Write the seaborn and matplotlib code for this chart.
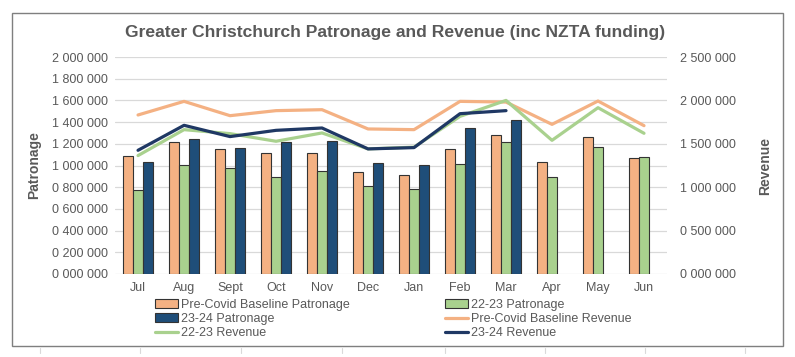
import numpy as np
import pandas as pd
import seaborn as sns
import matplotlib.pyplot as plt
from matplotlib.patches import Rectangle
from matplotlib.lines import Line2D

sns.set_theme(style="white")
plt.rcParams['font.family'] = ['Liberation Sans', 'DejaVu Sans']

# Datos
months = ["Jul", "Aug", "Sept", "Oct", "Nov", "Dec", "Jan", "Feb", "Mar", "Apr", "May", "Jun"]
pat_pre = [1092000, 1215000, 1156000, 1120000, 1120000, 942000, 917000, 1156000, 1282000, 1031000, 1267000, 1074000]
pat_2223 = [779000, 1009000, 982000, 890000, 948000, 813000, 788000, 1018000, 1215000, 899000, 1175000, 1083000]
pat_2324 = [1034000, 1248000, 1166000, 1218000, 1230000, 1028000, 1009000, 1347000, 1417000, np.nan, np.nan, np.nan]
rev_pre = [1833000, 1990000, 1825000, 1883000, 1894000, 1672000, 1664000, 1990000, 1982000, 1725000, 1994000, 1710000]
rev_2223 = [1365000, 1664000, 1618000, 1530000, 1626000, 1442000, 1462000, 1817000, 2001000, 1541000, 1917000, 1622000]
rev_2324 = [1426000, 1714000, 1584000, 1656000, 1683000, 1442000, 1457000, 1848000, 1883000, np.nan, np.nan, np.nan]

bar_names = ["Pre-Covid Baseline Patronage", "22-23 Patronage", "23-24 Patronage"]
line_names = ["Pre-Covid Baseline Revenue", "22-23 Revenue", "23-24 Revenue"]

c_orange = "#F4B183"
c_green = "#A9D18E"
c_blue = "#1F4E79"
c_navy = "#1F3864"
txt = "#595959"

bars = pd.DataFrame({
    "month": months * 3,
    "serie": [bar_names[0]] * 12 + [bar_names[1]] * 12 + [bar_names[2]] * 12,
    "valor": pat_pre + pat_2223 + pat_2324,
})
lines = pd.DataFrame({
    "pos": list(range(12)) * 3,
    "serie": [line_names[0]] * 12 + [line_names[1]] * 12 + [line_names[2]] * 12,
    "valor": rev_pre + rev_2223 + rev_2324,
})

fig = plt.figure(figsize=(7.95, 3.57), dpi=100)
ax = fig.add_axes([0.1447, 0.2325, 0.6943, 0.6075])

sns.barplot(data=bars, x="month", y="valor", hue="serie", hue_order=bar_names,
            palette=[c_orange, c_green, c_blue], saturation=1, width=0.67, gap=0,
            edgecolor="#333333", linewidth=0.8, errorbar=None, legend=False, ax=ax)

ax.set_ylim(0, 2000000)
ax.set_yticks(np.arange(0, 2000001, 200000))


def fmt(v):
    s = f"{int(v):07d}"
    return s[0] + " " + s[1:4] + " " + s[4:]


ax.set_yticklabels([fmt(v) for v in ax.get_yticks()], fontsize=9, color=txt)
ax.tick_params(axis="x", labelsize=9, labelcolor=txt, length=0, pad=6)
ax.tick_params(axis="y", length=0, pad=5)
ax.grid(axis="y", color="#D9D9D9", linewidth=0.9)
ax.set_axisbelow(True)
for s in ax.spines.values():
    s.set_visible(False)
ax.set_xlabel("")
ax.set_ylabel("Patronage", fontsize=10, fontweight="bold", color=txt, labelpad=8)

ax2 = ax.twinx()
sns.lineplot(data=lines, x="pos", y="valor", hue="serie", hue_order=line_names,
             palette=[c_orange, c_green, c_navy], linewidth=2.3, legend=False, ax=ax2)
ax2.set_ylim(0, 2500000)
ax2.set_xlim(-0.5, 11.5)
ax2.set_yticks(np.arange(0, 2500001, 500000))
ax2.set_yticklabels([fmt(v) for v in ax2.get_yticks()], fontsize=9, color=txt)
ax2.tick_params(axis="y", length=0, pad=9)
for s in ax2.spines.values():
    s.set_visible(False)
ax2.set_ylabel("Revenue", fontsize=10, fontweight="bold", color=txt, rotation=90)
ax2.yaxis.set_label_coords(1.165, 0.5)

fig.text(0.497, 0.91, "Greater Christchurch Patronage and Revenue (inc NZTA funding)",
         ha="center", va="center", fontsize=12.6, fontweight="bold", color=txt)

# leyenda en dos columnas
def bar_h(c):
    return Rectangle((0, 0), 1, 1, facecolor=c, edgecolor="#333333", linewidth=0.8)


def line_h(c):
    return Line2D([0], [0], color=c, linewidth=2.3)


col1 = [bar_h(c_orange), bar_h(c_blue), line_h(c_green)]
lab1 = [bar_names[0], bar_names[2], line_names[1]]
col2 = [bar_h(c_green), line_h(c_orange), line_h(c_navy)]
lab2 = [bar_names[1], line_names[0], line_names[2]]

kw = dict(frameon=False, fontsize=9, labelcolor=txt, handlelength=1.85, handleheight=0.65,
          handletextpad=0.2, labelspacing=0.18, borderpad=0, borderaxespad=0)
fig.legend(col1, lab1, loc="upper left", bbox_to_anchor=(0.195, 0.163), **kw)
fig.legend(col2, lab2, loc="upper left", bbox_to_anchor=(0.560, 0.163), **kw)

# marco del grafico
fig.patches.append(Rectangle((12 / 795, 11 / 357), 771 / 795, 333 / 357, transform=fig.transFigure,
                             fill=False, edgecolor="#7F7F7F", linewidth=1.0))
for xp in [40, 140, 241, 342, 445, 545, 645, 745]:
    fig.lines.append(Line2D([xp / 795, xp / 795], [4 / 357, 9 / 357], transform=fig.transFigure,
                            color="#D9D9D9", linewidth=0.8))

fig.savefig("out.png", dpi=100)
